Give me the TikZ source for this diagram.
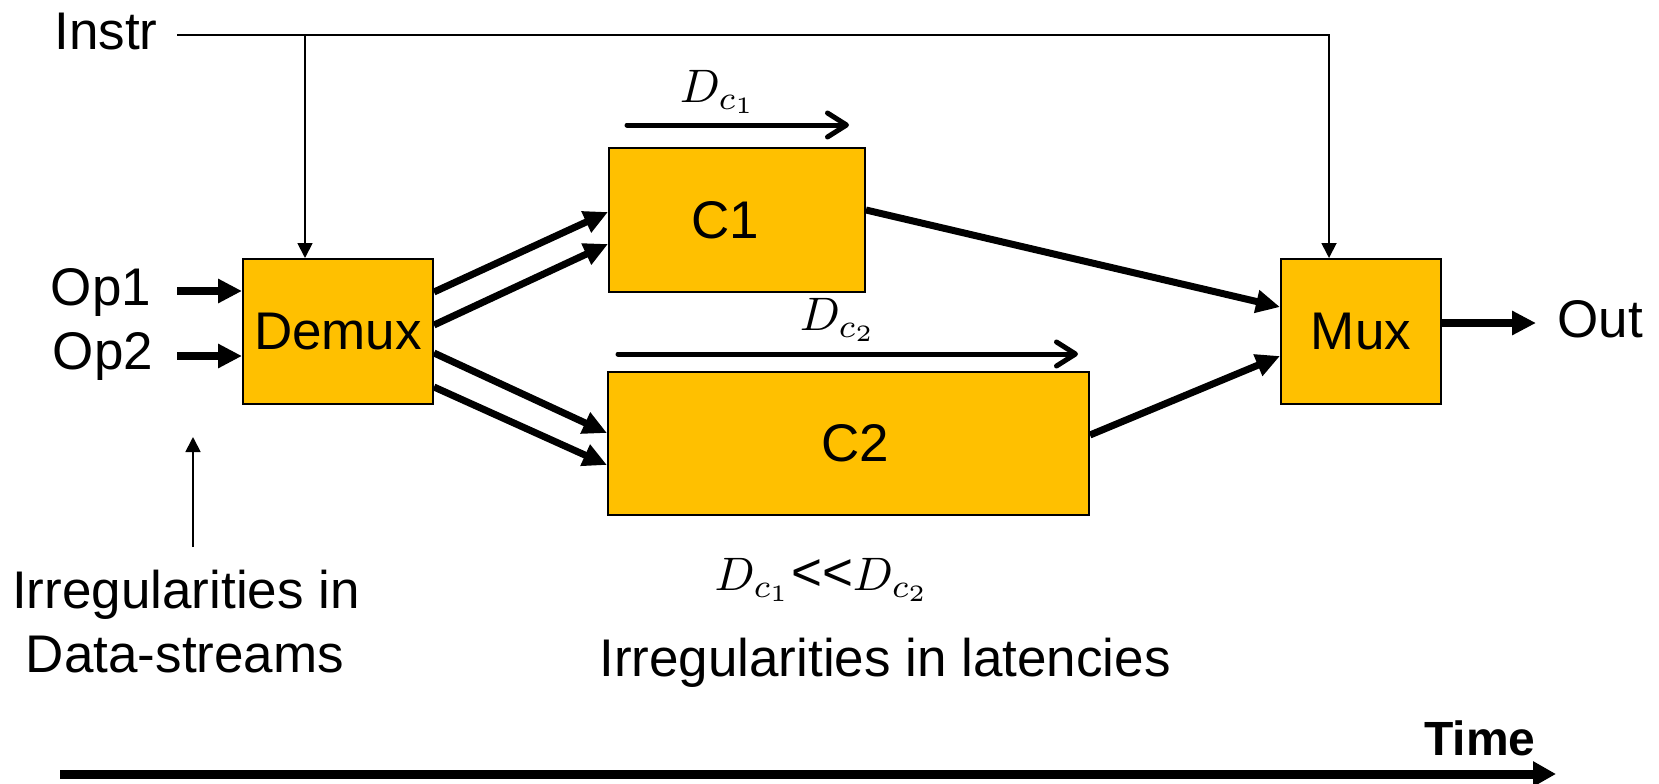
\documentclass[tikz,border=0pt]{standalone}
\usepackage{graphicx}
\usepackage{fontspec}
\setmainfont{Liberation Sans}
\usetikzlibrary{arrows.meta,calc}
\definecolor{boxfill}{HTML}{FFC000}
\newcommand{\bigmath}[1]{{\fontsize{10}{12}\selectfont\scalebox{4.7}{$#1$}}}
\begin{document}
\begin{tikzpicture}[x=1pt,y=-1pt,
  blk/.style={draw=black, line width=2pt, fill=boxfill, inner sep=0pt, font=\fontsize{53}{60}\selectfont},
  lbl/.style={inner sep=0pt, anchor=base, font=\fontsize{53}{64}\selectfont},
  mlbl/.style={inner sep=0pt, anchor=base},
  bigarrow/.style={line width=7pt, -{Triangle[length=24pt,width=22pt]}},
  oparrow/.style={line width=8pt, -{Triangle[length=24pt,width=23pt]}},
  thinarrow/.style={line width=1.8pt, -{Triangle[length=15pt,width=15pt]}},
  latarrow/.style={line width=5pt, line cap=round, -{Straight Barb[length=19pt,width=24pt,line cap=round,line join=round]}}]
\useasboundingbox (0,0) rectangle (1659,784);

% blocks
\node[blk, minimum width=190pt, minimum height=145pt] (demux) at (338,331.5) {Demux};
\node[blk, minimum width=256pt, minimum height=144pt] (c1) at (737,220) {C1\hspace*{24pt}};
\node[blk, minimum width=481pt, minimum height=143pt] (c2) at (848.5,443.5) {\hspace*{13pt}C2};
\node[blk, minimum width=160pt, minimum height=145pt] (mux) at (1361,331.5) {Mux};

% labels
\node[lbl] (instr) at (106,50) {Instr};
\node[lbl] (op1) at (101,305) {Op1};
\node[lbl] (op2) at (103,369) {Op2};
\node[lbl] (out) at (1600,337) {Out};
\node[mlbl] (dc1) at (718,102) {\bigmath{D_{c_1}}};
\node[mlbl] (dc2) at (838,330) {\bigmath{D_{c_2}}};
\node[lbl] (cmp) at (822,590) {\bigmath{D_{c_1}}<\kern0pt<\bigmath{D_{c_2}}};
\node[lbl] (irrlat) at (885,676) {Irregularities in latencies};
\node[lbl] (irr1) at (186,608) {Irregularities in};
\node[lbl] (irr2) at (185,672) {Data-streams};
\node[lbl, font=\bfseries\fontsize{48}{56}\selectfont] (time) at (1480,755) {Time};

% instruction line
\coordinate (ib) at (177,35);
\coordinate (ij) at (305,35);
\coordinate (ie) at (1329,35);
\draw[thinarrow] (ib) -- (ie) -- (ie |- mux.north);
\draw[thinarrow] (ij) -- (ij |- demux.north);

% operands
\coordinate (op1s) at (177,291);
\coordinate (op2s) at (177,356);
\draw[oparrow] (op1s) -- (op1s -| demux.west);
\draw[oparrow] (op2s) -- (op2s -| demux.west);

% demux to units
\draw[bigarrow] ($(demux.east)+(0,-39.5)$) -- ($(c1.west)+(0,-8)$);
\draw[bigarrow] ($(demux.east)+(0,-6.5)$) -- ($(c1.west)+(0,24)$);
\draw[bigarrow] ($(demux.east)+(0,21.5)$) -- ($(c2.west)+(0,-10.5)$);
\draw[bigarrow] ($(demux.east)+(0,55.5)$) -- ($(c2.west)+(0,21.5)$);

% units to mux
\draw[bigarrow] ($(c1.east)+(0,-10)$) -- ($(mux.west)+(0,-24.5)$);
\draw[bigarrow] ($(c2.east)+(0,-8.5)$) -- ($(mux.west)+(0,24.5)$);

% output
\coordinate (oe) at (1536,323);
\draw[oparrow] ($(mux.east)+(0,-8.5)$) -- (oe);

% irregularity pointer
\coordinate (ia) at (193,547);
\coordinate (iat) at (193,437);
\draw[thinarrow] (ia) -- (iat);

% latency arrows
\coordinate (l1s) at (627,125);
\coordinate (l1e) at (849,125);
\coordinate (l2s) at (618,354);
\coordinate (l2e) at (1078,354);
\draw[latarrow] (l1s) -- (l1e);
\draw[latarrow] (l2s) -- (l2e);

% time axis
\coordinate (ts) at (60,774);
\coordinate (te) at (1556,774);
\draw[line width=9pt, -{Triangle[length=23pt,width=24pt]}] (ts) -- (te);
\end{tikzpicture}
\end{document}
